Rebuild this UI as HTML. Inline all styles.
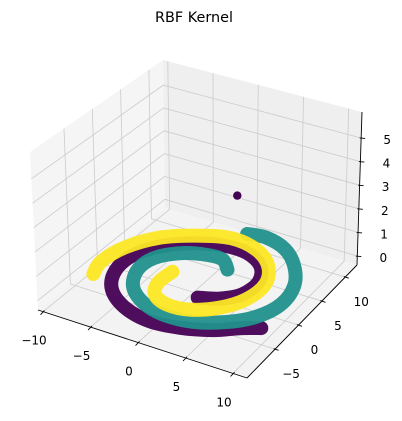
<!DOCTYPE html>
<html><head><meta charset="utf-8"><style>
html,body{margin:0;padding:0;background:#fff;width:402px;height:421px;overflow:hidden}
svg{display:block}
text{font-family:"DejaVu Sans","Liberation Sans",sans-serif;fill:#000}
</style></head><body>
<svg id="chart" width="402" height="421" viewBox="0 0 402 421" xmlns="http://www.w3.org/2000/svg">
<text x="194" y="22" text-anchor="middle" font-size="14.4">RBF Kernel</text>
<g id="panes"></g>
<g id="grid"></g>
<g id="axes"></g>
<g id="marks"></g>
</svg>
<script>
// data
const xTicks = [-10, -5, 0, 5, 10];
const yTicks = [-5, 0, 5, 10];
const zTicks = [0, 1, 2, 3, 4, 5];
const tealX = [1.54, 0.25, -1.47, -3.81, -5.53, -5.74, -4.56, -2.34, 0.33, 3.35, 6.07, 8.03, 9.04, 8.57, 6.80, 4.49, 1.83, -0.13];
const tealY = [3.94, 5.32, 5.34, 4.31, 2.14, -0.62, -3.60, -5.71, -6.67, -6.31, -4.61, -2.29, 0.98, 4.62, 7.89, 10.16, 11.12, 10.77];
const yellowX = [-2.77, -2.91, -2.09, -0.24, 2.04, 4.27, 5.72, 5.99, 4.64, 2.09, -1.13, -4.36, -7.07, -8.90, -9.41, -8.82];
const yellowY = [0.81, -1.69, -3.80, -4.84, -4.50, -2.67, -0.01, 3.44, 6.53, 8.66, 9.27, 7.91, 5.78, 2.44, -1.16, -3.64];
const purpleX = [1.62, 3.47, 4.96, 5.25, 3.99, 1.56, -1.32, -4.13, -6.50, -7.61, -7.22, -5.63, -3.0, -0.09, 2.84, 5.66, 7.64, 9.40];
const purpleY = [-2.14, -1.20, 0.61, 3.42, 6.13, 7.67, 7.62, 6.30, 3.94, 0.84, -2.64, -5.58, -7.65, -8.46, -7.94, -6.61, -4.94, -3.84];
const outlierX = [3.7];
const outlierY = [2.0];
const outlierZ = [3.7];

const XMIN = -10.53, XMAX = 11.47, YMIN = -11, YMAX = 12.5, ZMIN = -0.38, ZMAX = 6.1;
const FL = [[38,310],[247,378],[357,265],[165,208]]; // L F R B floor
const TP = [[30,152],[246,215],[362,112],[163,60]];  // top
function bil(Q, s, u) {
  const [L,F,R,B] = Q;
  return [
    L[0] + s*(F[0]-L[0]) + u*(B[0]-L[0]) + s*u*(R[0]-F[0]-B[0]+L[0]),
    L[1] + s*(F[1]-L[1]) + u*(B[1]-L[1]) + s*u*(R[1]-F[1]-B[1]+L[1])
  ];
}
function proj(x, y, z) {
  const s = (x - XMIN) / (XMAX - XMIN), u = (y - YMIN) / (YMAX - YMIN), t = (z - ZMIN) / (ZMAX - ZMIN);
  const a = bil(FL, s, u), b = bil(TP, s, u);
  return [a[0] + t*(b[0]-a[0]), a[1] + t*(b[1]-a[1])];
}
const NS = 'http://www.w3.org/2000/svg';
function mk(tag, parent, attrs) {
  const e = document.createElementNS(NS, tag);
  for (const k in attrs) e.setAttribute(k, attrs[k]);
  parent.appendChild(e);
  return e;
}
const pts = a => a.map(p => p[0].toFixed(1) + ',' + p[1].toFixed(1)).join(' ');
const panes = document.getElementById('panes');
const grid = document.getElementById('grid');
const axes = document.getElementById('axes');
const marks = document.getElementById('marks');

let e;
e = mk('polygon', panes, {points: pts([proj(XMIN,YMIN,ZMIN),proj(XMIN,YMAX,ZMIN),proj(XMIN,YMAX,ZMAX),proj(XMIN,YMIN,ZMAX)]), fill:'#f5f5f5'});


e = mk('polygon', panes, {points: pts([proj(XMIN,YMAX,ZMIN),proj(XMAX,YMAX,ZMIN),proj(XMAX,YMAX,ZMAX),proj(XMIN,YMAX,ZMAX)]), fill:'#efefef'});


e = mk('polygon', panes, {points: pts([proj(XMIN,YMIN,ZMIN),proj(XMAX,YMIN,ZMIN),proj(XMAX,YMAX,ZMIN),proj(XMIN,YMAX,ZMIN)]), fill:'#f3f3f3'});



function gl(a, b, name) {
  const l = mk('line', grid, {x1:a[0], y1:a[1], x2:b[0], y2:b[1], stroke:'#cbcbcb', 'stroke-width':0.8});
  
  
}
xTicks.forEach(v => {
  gl(proj(v,YMIN,ZMIN), proj(v,YMAX,ZMIN), 'floor-gridline-x');
  gl(proj(v,YMAX,ZMIN), proj(v,YMAX,ZMAX), 'back-gridline-x');
});
yTicks.forEach(v => {
  gl(proj(XMIN,v,ZMIN), proj(XMAX,v,ZMIN), 'floor-gridline-y');
  gl(proj(XMIN,v,ZMIN), proj(XMIN,v,ZMAX), 'left-gridline-y');
});
zTicks.forEach(v => {
  gl(proj(XMIN,YMIN,v), proj(XMIN,YMAX,v), 'left-gridline-z');
  gl(proj(XMIN,YMAX,v), proj(XMAX,YMAX,v), 'back-gridline-z');
});

function al(a, b, name) {
  const l = mk('line', axes, {x1:a[0], y1:a[1], x2:b[0], y2:b[1], stroke:'#000', 'stroke-width':0.9});
  
  
}
al(proj(XMIN,YMIN,ZMIN), proj(XMAX,YMIN,ZMIN), 'x-axis-line');
al(proj(XMAX,YMIN,ZMIN), proj(XMAX,YMAX,ZMIN), 'y-axis-line');
al(proj(XMAX,YMAX,ZMIN), proj(XMAX,YMAX,ZMAX), 'z-axis-line');

function lab(p, txt, name) {
  const t = mk('text', axes, {x:p[0].toFixed(1), y:p[1].toFixed(1), 'text-anchor':'middle', 'dominant-baseline':'central', 'font-size':12});
  t.textContent = txt;
  
  
}
const fmt = v => v < 0 ? '\u2212' + (-v) : String(v);
xTicks.forEach(v => {
  const p = proj(v,YMIN,ZMIN);
  al([p[0]+1.5,p[1]-1.2], [p[0]-2.5,p[1]+3], 'x-tick');
  lab([p[0]-9,p[1]+29], fmt(v), 'x-tick-label');
});
yTicks.forEach(v => {
  const p = proj(XMAX,v,ZMIN);
  al([p[0]-1.5,p[1]-0.5], [p[0]+3.5,p[1]+1.2], 'y-tick');
  lab([p[0]+16,p[1]+25], fmt(v), 'y-tick-label');
});
zTicks.forEach(v => {
  const p = proj(XMAX,YMAX,v);
  al([p[0]-1.5,p[1]], [p[0]+4,p[1]+0.5], 'z-tick');
  lab([p[0]+26,p[1]+2], fmt(v), 'z-tick-label');
});

function spiral(xs, ys, color, name) {
  const P = xs.map((x, i) => proj(x, ys[i], 0));
  let d = 'M' + P[0][0].toFixed(1) + ',' + P[0][1].toFixed(1);
  for (let i = 0; i < P.length - 1; i++) {
    const p0 = P[Math.max(0,i-1)], p1 = P[i], p2 = P[i+1], p3 = P[Math.min(P.length-1,i+2)];
    const c1 = [p1[0] + (p2[0]-p0[0])/6, p1[1] + (p2[1]-p0[1])/6];
    const c2 = [p2[0] - (p3[0]-p1[0])/6, p2[1] - (p3[1]-p1[1])/6];
    d += ' C' + c1.map(n=>n.toFixed(1)).join(',') + ' ' + c2.map(n=>n.toFixed(1)).join(',') + ' ' + p2.map(n=>n.toFixed(1)).join(',');
  }
  const path = mk('path', marks, {d:d, fill:'none', stroke:color, 'stroke-width':14, 'stroke-linecap':'round', 'stroke-linejoin':'round', opacity:0.95});
  
  
}
spiral(purpleX, purpleY, '#440154', 'purple-class-spiral');
spiral(tealX, tealY, '#21918c', 'teal-class-spiral');
spiral(yellowX, yellowY, '#fde725', 'yellow-class-spiral');

outlierX.forEach((x, i) => {
  const p = proj(x, outlierY[i], outlierZ[i]);
  const c = mk('circle', marks, {cx:p[0].toFixed(1), cy:p[1].toFixed(1), r:4.2, fill:'#440154'});
  
  
});
</script>
</body></html>
